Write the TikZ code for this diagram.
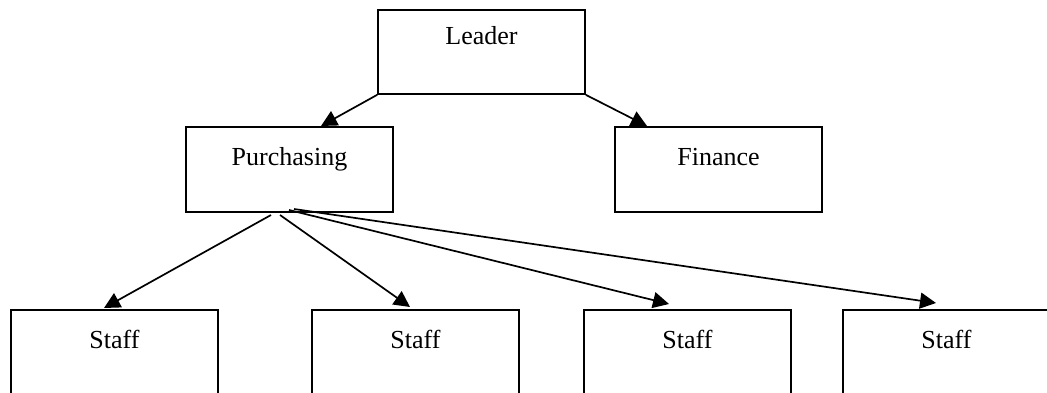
\documentclass[tikz,border=0pt]{standalone}
\usepackage{fontspec}
\setmainfont{Liberation Serif}
\usetikzlibrary{arrows.meta}
\begin{document}
\begin{tikzpicture}[x=1pt,y=-1pt, line width=1.7pt,
  box/.style={draw, rectangle, minimum width=207pt, inner sep=0pt},
  lbl/.style={anchor=base, font=\fontsize{26}{30}\selectfont, inner sep=0pt},
  arr/.style={-{Triangle[length=16pt,width=16pt]}}]
\useasboundingbox (0,0) rectangle (1047,393);
\clip (0,0) rectangle (1047,393);
% boxes
\node[box, minimum height=84pt] (leader) at (481.5,52) {};
\node[box, minimum height=85pt] (purch) at (289.5,169.5) {};
\node[box, minimum height=85pt] (fin) at (718.5,169.5) {};
\node[box, minimum height=130pt] (s1) at (114.5,375) {};
\node[box, minimum height=130pt] (s2) at (415.5,375) {};
\node[box, minimum height=130pt] (s3) at (687.5,375) {};
\node[box, minimum height=130pt] (s4) at (946.5,375) {};
% labels
\node[lbl] (tleader) at (481.5,45) {Leader};
\node[lbl] (tpurch) at (289.5,165) {Purchasing};
\node[lbl] (tfin) at (718.5,165) {Finance};
\node[lbl] (ts1) at (114.5,348) {Staff};
\node[lbl] (ts2) at (415.5,348) {Staff};
\node[lbl] (ts3) at (687.5,348) {Staff};
\node[lbl] (ts4) at (946.5,348) {Staff};
% connector ends
\coordinate (pTip) at (321,126);
\coordinate (fTip) at (647,126);
\coordinate (a1) at (271,215);
\coordinate (a2) at (280,215);
\coordinate (a3) at (289,210);
\coordinate (a4) at (294,209);
\coordinate (t1) at (104,308);
\coordinate (t2) at (410,307);
\coordinate (t3) at (669,304);
\coordinate (t4) at (936,303);
% connectors
\draw[arr] (leader.south west) -- (pTip);
\draw[arr] (leader.south east) -- (fTip);
\draw[arr] (a1) -- (t1);
\draw[arr] (a2) -- (t2);
\draw[arr] (a3) -- (t3);
\draw[arr] (a4) -- (t4);
\end{tikzpicture}
\end{document}
